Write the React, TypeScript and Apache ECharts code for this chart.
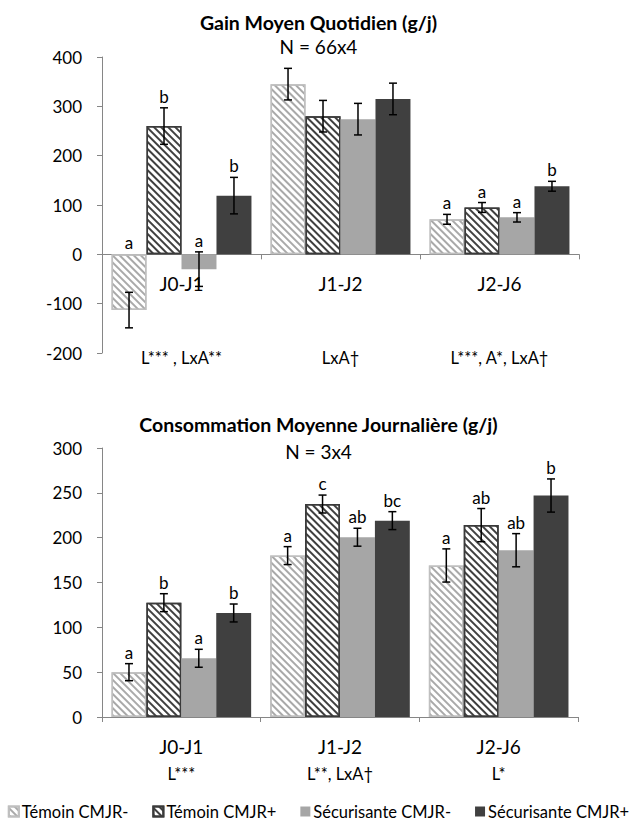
import React, { useEffect, useRef } from 'react';
import * as echarts from 'echarts';

// ---------- data ----------
const categories = ['J0-J1', 'J1-J2', 'J2-J6'];
const seriesNames = ['Témoin CMJR-', 'Témoin CMJR+', 'Sécurisante CMJR-', 'Sécurisante CMJR+'];

// Gain Moyen Quotidien (g/j)
const gmqTemoinMoins = [-113, 345, 71];
const gmqTemoinPlus = [260, 280, 95];
const gmqSecuMoins = [-30, 274, 75];
const gmqSecuPlus = [119, 315, 138];
const gmqErrTemoinMoins = [36, 32, 10];
const gmqErrTemoinPlus = [37, 32, 10];
const gmqErrSecuMoins = [35, 32, 9.5];
const gmqErrSecuPlus = [37, 32, 10];
const gmqLetTemoinMoins = ['a', '', 'a'];
const gmqLetTemoinPlus = ['b', '', 'a'];
const gmqLetSecuMoins = ['a', '', 'a'];
const gmqLetSecuPlus = ['b', '', 'b'];
const gmqAnnotations = ['L*** , LxA**', 'LxA†', 'L***, A*, LxA†'];
const gmqAxis = { min: -200, max: 400, interval: 100 };

// Consommation Moyenne Journalière (g/j)
const cmjTemoinMoins = [50, 180, 169];
const cmjTemoinPlus = [127.5, 237.5, 214];
const cmjSecuMoins = [65.5, 200.5, 186];
const cmjSecuPlus = [116, 219, 247];
const cmjErrTemoinMoins = [9.5, 10, 18.5];
const cmjErrTemoinPlus = [10, 10, 18.5];
const cmjErrSecuMoins = [10, 10, 18.5];
const cmjErrSecuPlus = [10, 10, 18.5];
const cmjLetTemoinMoins = ['a', 'a', 'a'];
const cmjLetTemoinPlus = ['b', 'c', 'ab'];
const cmjLetSecuMoins = ['a', 'ab', 'ab'];
const cmjLetSecuPlus = ['b', 'bc', 'b'];
const cmjAnnotations = ['L***', 'L**, LxA†', 'L*'];
const cmjAxis = { min: 0, max: 300, interval: 50 };

// ---------- styles ----------
const FONT = 'Lato';
const AXIS_GREY = '#868686';
const CAT_GAP = 0.12;
const CAT_FONT = 19;
const ANN_FONT = 16.5;

const seriesStyles: any[] = [
  {
    color: '#ffffff',
    borderColor: '#bfbfbf',
    borderWidth: 1.5,
    decal: { symbol: 'rect', symbolSize: 1, dashArrayX: [1, 0], dashArrayY: [1.2, 2.8], rotation: Math.PI / 4, color: '#a9a9a9' },
  },
  {
    color: '#ffffff',
    borderColor: '#3a3a3a',
    borderWidth: 1.5,
    decal: { symbol: 'rect', symbolSize: 1, dashArrayX: [1, 0], dashArrayY: [1.3, 2.2], rotation: Math.PI / 4, color: '#404040' },
  },
  { color: '#a6a6a6' },
  { color: '#404040' },
];

function barSeries(gridIdx: number, values: number[][]) {
  return values.map((vals, s) => ({
    type: 'bar',
    name: seriesNames[s],
    xAxisIndex: gridIdx,
    yAxisIndex: gridIdx,
    data: vals,
    barGap: '0%',
    barCategoryGap: CAT_GAP * 100 + '%',
    itemStyle: seriesStyles[s],
    emphasis: { disabled: true },
  }));
}

function errorSeries(gridIdx: number, values: number[][], errs: number[][], letters: string[][]) {
  const data: number[][] = [];
  const labels: string[] = [];
  values.forEach((vals, s) =>
    vals.forEach((v, c) => {
      const hi = v + errs[s][c];
      data.push([c, v - errs[s][c], hi, s, Math.max(0, hi)]);
      labels.push(letters[s][c]);
    })
  );
  return {
    type: 'custom',
    xAxisIndex: gridIdx,
    yAxisIndex: gridIdx,
    silent: true,
    z: 10,
    data,
    renderItem: (params: any, api: any) => {
      const c = api.value(0);
      const lo = api.value(1);
      const hi = api.value(2);
      const s = api.value(3);
      const anchor = api.value(4);
      const catW = api.size([1, 0])[0];
      const barW = (catW * (1 - CAT_GAP)) / 4;
      const pLo = api.coord([c, lo]);
      const pHi = api.coord([c, hi]);
      const pA = api.coord([c, anchor]);
      const x = pLo[0] + (s - 1.5) * barW;
      const cap = 4;
      const st = { stroke: '#000', lineWidth: 1.5 };
      const children: any[] = [
        { type: 'line', shape: { x1: x, y1: pLo[1], x2: x, y2: pHi[1] }, style: st },
        { type: 'line', shape: { x1: x - cap, y1: pHi[1], x2: x + cap, y2: pHi[1] }, style: st },
        { type: 'line', shape: { x1: x - cap, y1: pLo[1], x2: x + cap, y2: pLo[1] }, style: st },
      ];
      const t = labels[params.dataIndex];
      if (t) {
        children.push({
          type: 'text',
          style: {
            text: t,
            x,
            y: pA[1] - 3,
            align: 'center',
            verticalAlign: 'bottom',
            fontSize: 17,
            fontFamily: FONT,
            fill: '#000',
          },
        });
      }
      return { type: 'group', children };
    },
  };
}

function xAxisCfg(gridIdx: number, margin: number, showLabel: boolean) {
  return {
    type: 'category',
    gridIndex: gridIdx,
    data: categories,
    axisLine: { show: true, onZero: true, lineStyle: { color: AXIS_GREY, width: 1 } },
    axisTick: { show: true, length: 5, lineStyle: { color: AXIS_GREY } },
    axisLabel: { show: showLabel, margin, fontSize: CAT_FONT, color: '#000', fontFamily: FONT },
  };
}

function yAxisCfg(gridIdx: number, ax: { min: number; max: number; interval: number }) {
  return {
    type: 'value',
    gridIndex: gridIdx,
    min: ax.min,
    max: ax.max,
    interval: ax.interval,
    axisLine: { show: true, lineStyle: { color: AXIS_GREY, width: 1 } },
    axisTick: { show: true, length: 5, lineStyle: { color: AXIS_GREY } },
    splitLine: { show: false },
    axisLabel: { margin: 20, fontSize: 17, color: '#000', fontFamily: FONT },
  };
}

export default function App() {
  const ref = useRef<HTMLDivElement>(null);

  useEffect(() => {
    document.body.style.margin = '0';
    if (!ref.current) return;
    const chart = echarts.init(ref.current, undefined, { renderer: 'svg' });

    const gmqVals = [gmqTemoinMoins, gmqTemoinPlus, gmqSecuMoins, gmqSecuPlus];
    const gmqErrs = [gmqErrTemoinMoins, gmqErrTemoinPlus, gmqErrSecuMoins, gmqErrSecuPlus];
    const gmqLets = [gmqLetTemoinMoins, gmqLetTemoinPlus, gmqLetSecuMoins, gmqLetSecuPlus];
    const cmjVals = [cmjTemoinMoins, cmjTemoinPlus, cmjSecuMoins, cmjSecuPlus];
    const cmjErrs = [cmjErrTemoinMoins, cmjErrTemoinPlus, cmjErrSecuMoins, cmjErrSecuPlus];
    const cmjLets = [cmjLetTemoinMoins, cmjLetTemoinPlus, cmjLetSecuMoins, cmjLetSecuPlus];

    chart.setOption({
      animation: false,
      textStyle: { fontFamily: FONT },
      title: [
        { text: 'Gain Moyen Quotidien (g/j)', left: 'center', top: 12, padding: 0, textStyle: { fontSize: 19.5, fontWeight: 'bold', color: '#000', fontFamily: FONT } },
        { text: 'N = 66x4', left: 'center', top: 37, padding: 0, textStyle: { fontSize: 19, fontWeight: 'normal', color: '#000', fontFamily: FONT } },
        { text: 'Consommation Moyenne Journalière (g/j)', left: 'center', top: 414, padding: 0, textStyle: { fontSize: 19.5, fontWeight: 'bold', color: '#000', fontFamily: FONT } },
        { text: 'N = 3x4', left: 'center', top: 442, padding: 0, textStyle: { fontSize: 19, fontWeight: 'normal', color: '#000', fontFamily: FONT } },
      ],
      legend: {
        data: seriesNames,
        left: 'center',
        top: 803,
        icon: 'rect',
        itemWidth: 10,
        itemHeight: 10,
        itemGap: 24,
        padding: 0,
        selectedMode: false,
        textStyle: { fontSize: 16.5, color: '#000', fontFamily: FONT, padding: [0, 0, 0, -2] },
      },
      grid: [
        { left: 102, top: 57, width: 477, height: 296 },
        { left: 102, top: 448, width: 476, height: 269 },
      ],
      xAxis: [xAxisCfg(0, 20, false), xAxisCfg(1, 20, true)],
      yAxis: [yAxisCfg(0, gmqAxis), yAxisCfg(1, cmjAxis)],
      series: [
        ...barSeries(0, gmqVals),
        ...barSeries(1, cmjVals),
        errorSeries(0, gmqVals, gmqErrs, gmqLets),
        errorSeries(1, cmjVals, cmjErrs, cmjLets),
      ],
    });

    const txt = (t: string, x: number, y: number, size: number) => ({
      type: 'text',
      silent: true,
      style: { text: t, x, y, align: 'center', verticalAlign: 'middle', fontSize: size, fontFamily: FONT, fill: '#000' },
    });
    const yZero = chart.convertToPixel({ yAxisIndex: 0 } as any, 0) as number;
    const yTop = (chart.convertToPixel({ yAxisIndex: 0 } as any, gmqAxis.min) as number) + 5;
    const yBot = (chart.convertToPixel({ yAxisIndex: 1 } as any, cmjAxis.min) as number) + 57;
    const graphics: any[] = [];
    categories.forEach((c, i) => {
      const x0 = chart.convertToPixel({ xAxisIndex: 0 } as any, i) as number;
      const x1 = chart.convertToPixel({ xAxisIndex: 1 } as any, i) as number;
      graphics.push(txt(c, x0, yZero + 29, CAT_FONT));
      graphics.push(txt(gmqAnnotations[i], x0, yTop, ANN_FONT));
      graphics.push(txt(cmjAnnotations[i], x1, yBot, ANN_FONT));
    });
    chart.setOption({ graphic: graphics });

    return () => chart.dispose();
  }, []);

  return <div ref={ref} style={{ width: 637, height: 827 }} />;
}
